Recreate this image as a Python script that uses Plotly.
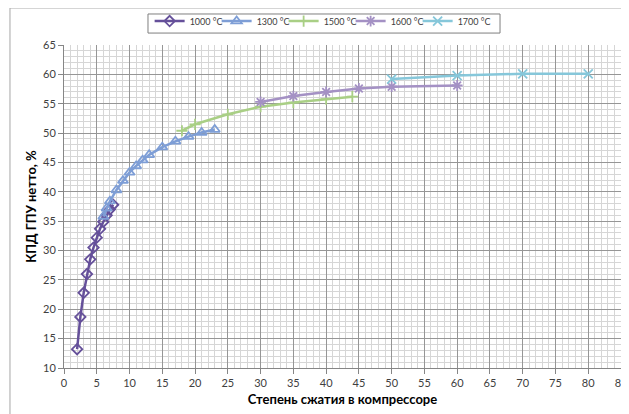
import plotly.graph_objects as go

# ---- data ----
x_1000 = [2, 2.5, 3, 3.5, 4, 4.5, 5, 5.5, 6, 6.5, 7, 7.5]
y_1000 = [13.2, 18.7, 22.8, 26.0, 28.5, 30.5, 32.2, 33.7, 34.9, 36.0, 37.0, 37.8]

x_1300 = [6, 6.5, 7, 8, 9, 10, 11, 12, 13, 15, 17, 19, 21, 23]
y_1300 = [35.8, 37.2, 38.4, 40.3, 41.9, 43.3, 44.4, 45.4, 46.3, 47.6, 48.6, 49.4, 50.1, 50.6]

x_1500 = [18, 20, 25, 30, 35, 40, 44]
y_1500 = [50.4, 51.5, 53.2, 54.5, 55.2, 55.8, 56.2]

x_1600 = [30, 35, 40, 45, 50, 60]
y_1600 = [55.3, 56.3, 57.0, 57.6, 57.9, 58.1]

x_1700 = [50, 60, 70, 80]
y_1700 = [59.2, 59.8, 60.1, 60.1]

names = ["1000 °C", "1300 °C", "1500 °C", "1600 °C", "1700 °C"]
x_title = "Степень сжатия в компрессоре"
y_title = "КПД ГПУ нетто, %"

FONT = "Lato, 'Open Sans', sans-serif"

series = [
    (x_1000, y_1000, names[0], "#65509A", "diamond-open", 8),
    (x_1300, y_1300, names[1], "#7E9ED6", "triangle-up-open", 9),
    (x_1500, y_1500, names[2], "#A9CF85", "cross-thin-open", 8),
    (x_1600, y_1600, names[3], "#A491C4", "asterisk-open", 9),
    (x_1700, y_1700, names[4], "#86C7DA", "x-thin-open", 9),
]

fig = go.Figure()
for xs, ys, nm, col, sym, sz in series:
    fig.add_trace(go.Scatter(
        x=xs, y=ys, name=nm, mode="lines+markers",
        line=dict(color=col, width=2.5),
        marker=dict(symbol=sym, size=sz, color=col,
                    line=dict(color=col, width=1.8)),
    ))

# empty spacer entry so the last legend label is not clipped
fig.add_trace(go.Scatter(
    x=[None], y=[None], name=" ", mode="lines",
    line=dict(color="rgba(0,0,0,0)", width=0), hoverinfo="skip",
))

axis_common = dict(
    showline=True, linecolor="#868686", linewidth=1,
    ticks="outside", ticklen=5, tickcolor="#868686",
    showgrid=True, gridcolor="#969696", gridwidth=1,
    zeroline=False, mirror=False, automargin=False,
    tickfont=dict(family=FONT, size=11, color="#404040"),
    title_font=dict(family=FONT, size=13, color="#000000"),
    minor=dict(dtick=1, showgrid=True, gridcolor="#D6D6D6", gridwidth=1, ticks=""),
)

fig.update_xaxes(range=[0, 85], dtick=5, tick0=0,
                 title=dict(text="<b>" + x_title + "</b>", standoff=6),
                 **axis_common)
fig.update_yaxes(range=[10, 65], dtick=5, tick0=10,
                 title=dict(text="<b>" + y_title + "</b>", standoff=3),
                 **axis_common)

fig.update_layout(
    width=621, height=406,
    margin=dict(l=56, r=8, t=37, b=46, autoexpand=False),
    paper_bgcolor="white", plot_bgcolor="white",
    font=dict(family=FONT, color="#404040"),
    showlegend=True,
    legend=dict(
        orientation="h", x=0.5146, xanchor="center", y=1.119, yanchor="top",
        borderwidth=0, bgcolor="rgba(0,0,0,0)",
        font=dict(family=FONT, size=9, color="#404040"),
        itemwidth=30, tracegroupgap=0, entrywidth=22,
    ),
    shapes=[
        # outer chart border
        dict(type="rect", xref="paper", yref="paper",
             x0=-0.097, y0=-0.3, x1=1.2, y1=1.1146,
             line=dict(color="#A6A6A6", width=1), fillcolor="rgba(0,0,0,0)",
             layer="below"),
        # legend frame
        dict(type="rect", xref="paper", yref="paper",
             x0=0.1508, y0=1.037, x1=0.7828, y1=1.096,
             line=dict(color="#7F7F7F", width=1), fillcolor="white",
             layer="above"),
    ],
)

fig.write_html("out.html")
